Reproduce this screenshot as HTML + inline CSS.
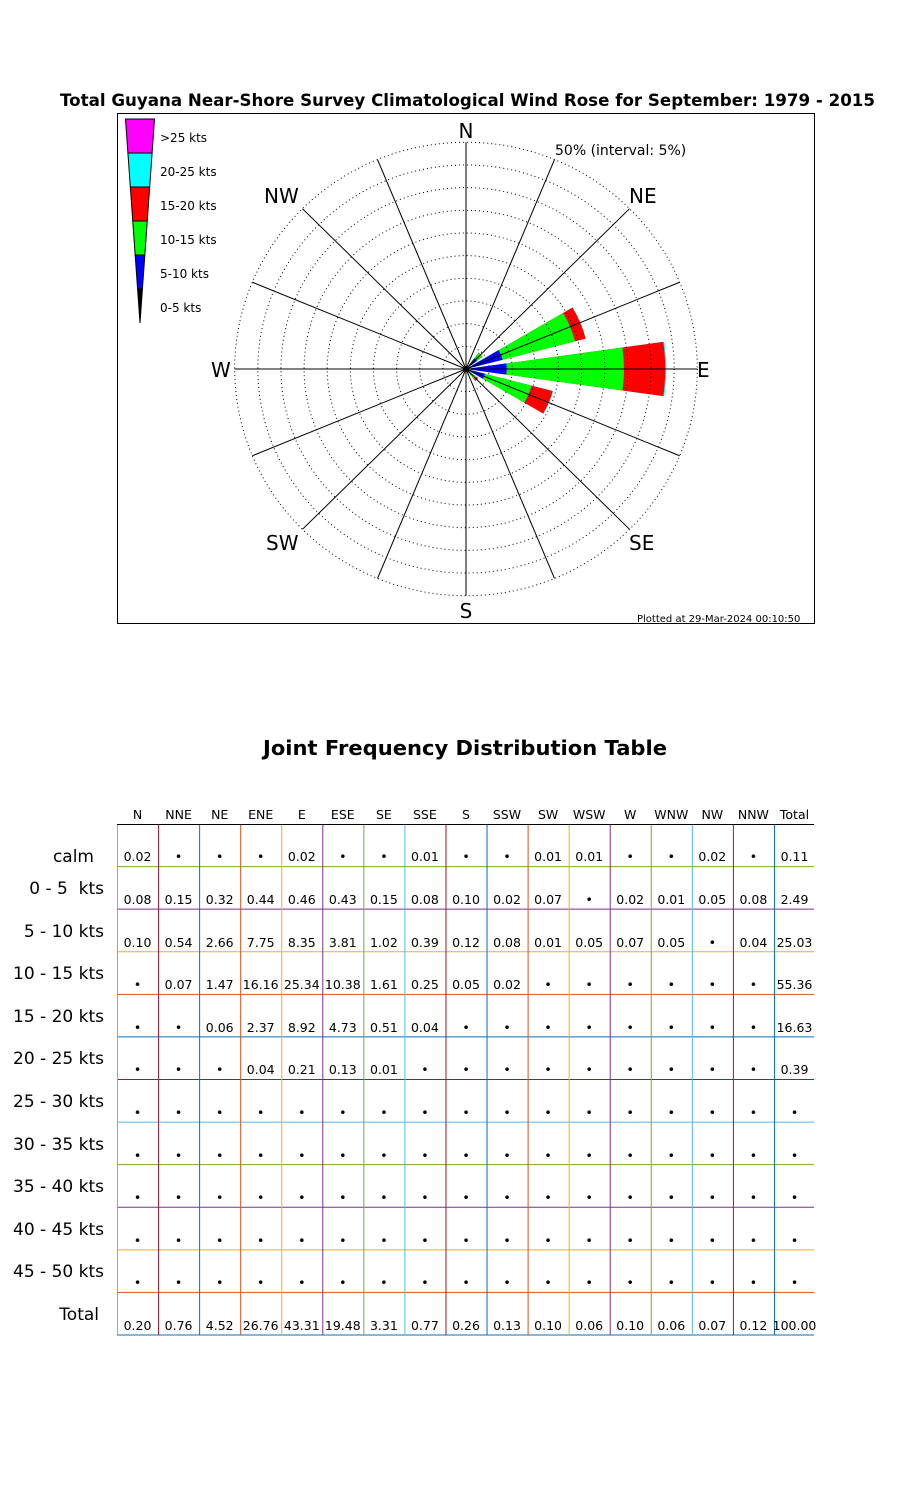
<!DOCTYPE html>
<html><head><meta charset="utf-8"><style>
html,body{margin:0;padding:0;background:#fff;}
svg{display:block;font-family:"DejaVu Sans","Liberation Sans",sans-serif;}
</style></head><body>
<svg id="s" width="900" height="1500" viewBox="0 0 900 1500" xmlns="http://www.w3.org/2000/svg">
<text x="60" y="106" font-size="16.5" font-weight="bold" textLength="815" lengthAdjust="spacingAndGlyphs">Total Guyana Near-Shore Survey Climatological Wind Rose for September: 1979 - 2015</text>
<rect x="117.5" y="113.5" width="697" height="510" fill="none" stroke="#000" stroke-width="1"/>
<g id="rose" transform="translate(466,369) scale(1.01,0.99)"></g>
<g id="leg"></g>
<g font-size="20">
<text x="466" y="138" text-anchor="middle">N</text>
<text x="466" y="618" text-anchor="middle">S</text>
<text x="697" y="377">E</text>
<text x="211" y="377">W</text>
<text x="629" y="203">NE</text>
<text x="264" y="203">NW</text>
<text x="629" y="550">SE</text>
<text x="266" y="550">SW</text>
</g>
<text x="555" y="155" font-size="14">50% (interval: 5%)</text>
<text x="637" y="622" font-size="10">Plotted at 29-Mar-2024 00:10:50</text>
<g font-size="12">
<text x="160" y="142">&gt;25 kts</text>
<text x="160" y="176">20-25 kts</text>
<text x="160" y="210">15-20 kts</text>
<text x="160" y="244">10-15 kts</text>
<text x="160" y="278">5-10 kts</text>
<text x="160" y="312">0-5 kts</text>
</g>
<text x="263" y="755" font-size="20" font-weight="bold" textLength="404" lengthAdjust="spacingAndGlyphs">Joint Frequency Distribution Table</text>
<g id="grid"></g>
<g font-size="12.5" text-anchor="middle">
<text y="819"><tspan x="137.5">N</tspan><tspan x="178.6">NNE</tspan><tspan x="219.7">NE</tspan><tspan x="260.7">ENE</tspan><tspan x="301.8">E</tspan><tspan x="342.8">ESE</tspan><tspan x="383.9">SE</tspan><tspan x="424.9">SSE</tspan><tspan x="466">S</tspan><tspan x="507">SSW</tspan><tspan x="548.1">SW</tspan><tspan x="589.2">WSW</tspan><tspan x="630.2">W</tspan><tspan x="671.3">WNW</tspan><tspan x="712.3">NW</tspan><tspan x="753.4">NNW</tspan><tspan x="794.5">Total</tspan></text>
<text y="861"><tspan x="137.5">0.02</tspan><tspan x="178.6">•</tspan><tspan x="219.7">•</tspan><tspan x="260.7">•</tspan><tspan x="301.8">0.02</tspan><tspan x="342.8">•</tspan><tspan x="383.9">•</tspan><tspan x="424.9">0.01</tspan><tspan x="466">•</tspan><tspan x="507">•</tspan><tspan x="548.1">0.01</tspan><tspan x="589.2">0.01</tspan><tspan x="630.2">•</tspan><tspan x="671.3">•</tspan><tspan x="712.3">0.02</tspan><tspan x="753.4">•</tspan><tspan x="794.5">0.11</tspan></text>
<text y="904"><tspan x="137.5">0.08</tspan><tspan x="178.6">0.15</tspan><tspan x="219.7">0.32</tspan><tspan x="260.7">0.44</tspan><tspan x="301.8">0.46</tspan><tspan x="342.8">0.43</tspan><tspan x="383.9">0.15</tspan><tspan x="424.9">0.08</tspan><tspan x="466">0.10</tspan><tspan x="507">0.02</tspan><tspan x="548.1">0.07</tspan><tspan x="589.2">•</tspan><tspan x="630.2">0.02</tspan><tspan x="671.3">0.01</tspan><tspan x="712.3">0.05</tspan><tspan x="753.4">0.08</tspan><tspan x="794.5">2.49</tspan></text>
<text y="947"><tspan x="137.5">0.10</tspan><tspan x="178.6">0.54</tspan><tspan x="219.7">2.66</tspan><tspan x="260.7">7.75</tspan><tspan x="301.8">8.35</tspan><tspan x="342.8">3.81</tspan><tspan x="383.9">1.02</tspan><tspan x="424.9">0.39</tspan><tspan x="466">0.12</tspan><tspan x="507">0.08</tspan><tspan x="548.1">0.01</tspan><tspan x="589.2">0.05</tspan><tspan x="630.2">0.07</tspan><tspan x="671.3">0.05</tspan><tspan x="712.3">•</tspan><tspan x="753.4">0.04</tspan><tspan x="794.5">25.03</tspan></text>
<text y="989"><tspan x="137.5">•</tspan><tspan x="178.6">0.07</tspan><tspan x="219.7">1.47</tspan><tspan x="260.7">16.16</tspan><tspan x="301.8">25.34</tspan><tspan x="342.8">10.38</tspan><tspan x="383.9">1.61</tspan><tspan x="424.9">0.25</tspan><tspan x="466">0.05</tspan><tspan x="507">0.02</tspan><tspan x="548.1">•</tspan><tspan x="589.2">•</tspan><tspan x="630.2">•</tspan><tspan x="671.3">•</tspan><tspan x="712.3">•</tspan><tspan x="753.4">•</tspan><tspan x="794.5">55.36</tspan></text>
<text y="1032"><tspan x="137.5">•</tspan><tspan x="178.6">•</tspan><tspan x="219.7">0.06</tspan><tspan x="260.7">2.37</tspan><tspan x="301.8">8.92</tspan><tspan x="342.8">4.73</tspan><tspan x="383.9">0.51</tspan><tspan x="424.9">0.04</tspan><tspan x="466">•</tspan><tspan x="507">•</tspan><tspan x="548.1">•</tspan><tspan x="589.2">•</tspan><tspan x="630.2">•</tspan><tspan x="671.3">•</tspan><tspan x="712.3">•</tspan><tspan x="753.4">•</tspan><tspan x="794.5">16.63</tspan></text>
<text y="1074"><tspan x="137.5">•</tspan><tspan x="178.6">•</tspan><tspan x="219.7">•</tspan><tspan x="260.7">0.04</tspan><tspan x="301.8">0.21</tspan><tspan x="342.8">0.13</tspan><tspan x="383.9">0.01</tspan><tspan x="424.9">•</tspan><tspan x="466">•</tspan><tspan x="507">•</tspan><tspan x="548.1">•</tspan><tspan x="589.2">•</tspan><tspan x="630.2">•</tspan><tspan x="671.3">•</tspan><tspan x="712.3">•</tspan><tspan x="753.4">•</tspan><tspan x="794.5">0.39</tspan></text>
<text y="1117"><tspan x="137.5">•</tspan><tspan x="178.6">•</tspan><tspan x="219.7">•</tspan><tspan x="260.7">•</tspan><tspan x="301.8">•</tspan><tspan x="342.8">•</tspan><tspan x="383.9">•</tspan><tspan x="424.9">•</tspan><tspan x="466">•</tspan><tspan x="507">•</tspan><tspan x="548.1">•</tspan><tspan x="589.2">•</tspan><tspan x="630.2">•</tspan><tspan x="671.3">•</tspan><tspan x="712.3">•</tspan><tspan x="753.4">•</tspan><tspan x="794.5">•</tspan></text>
<text y="1160"><tspan x="137.5">•</tspan><tspan x="178.6">•</tspan><tspan x="219.7">•</tspan><tspan x="260.7">•</tspan><tspan x="301.8">•</tspan><tspan x="342.8">•</tspan><tspan x="383.9">•</tspan><tspan x="424.9">•</tspan><tspan x="466">•</tspan><tspan x="507">•</tspan><tspan x="548.1">•</tspan><tspan x="589.2">•</tspan><tspan x="630.2">•</tspan><tspan x="671.3">•</tspan><tspan x="712.3">•</tspan><tspan x="753.4">•</tspan><tspan x="794.5">•</tspan></text>
<text y="1202"><tspan x="137.5">•</tspan><tspan x="178.6">•</tspan><tspan x="219.7">•</tspan><tspan x="260.7">•</tspan><tspan x="301.8">•</tspan><tspan x="342.8">•</tspan><tspan x="383.9">•</tspan><tspan x="424.9">•</tspan><tspan x="466">•</tspan><tspan x="507">•</tspan><tspan x="548.1">•</tspan><tspan x="589.2">•</tspan><tspan x="630.2">•</tspan><tspan x="671.3">•</tspan><tspan x="712.3">•</tspan><tspan x="753.4">•</tspan><tspan x="794.5">•</tspan></text>
<text y="1245"><tspan x="137.5">•</tspan><tspan x="178.6">•</tspan><tspan x="219.7">•</tspan><tspan x="260.7">•</tspan><tspan x="301.8">•</tspan><tspan x="342.8">•</tspan><tspan x="383.9">•</tspan><tspan x="424.9">•</tspan><tspan x="466">•</tspan><tspan x="507">•</tspan><tspan x="548.1">•</tspan><tspan x="589.2">•</tspan><tspan x="630.2">•</tspan><tspan x="671.3">•</tspan><tspan x="712.3">•</tspan><tspan x="753.4">•</tspan><tspan x="794.5">•</tspan></text>
<text y="1287"><tspan x="137.5">•</tspan><tspan x="178.6">•</tspan><tspan x="219.7">•</tspan><tspan x="260.7">•</tspan><tspan x="301.8">•</tspan><tspan x="342.8">•</tspan><tspan x="383.9">•</tspan><tspan x="424.9">•</tspan><tspan x="466">•</tspan><tspan x="507">•</tspan><tspan x="548.1">•</tspan><tspan x="589.2">•</tspan><tspan x="630.2">•</tspan><tspan x="671.3">•</tspan><tspan x="712.3">•</tspan><tspan x="753.4">•</tspan><tspan x="794.5">•</tspan></text>
<text y="1330"><tspan x="137.5">0.20</tspan><tspan x="178.6">0.76</tspan><tspan x="219.7">4.52</tspan><tspan x="260.7">26.76</tspan><tspan x="301.8">43.31</tspan><tspan x="342.8">19.48</tspan><tspan x="383.9">3.31</tspan><tspan x="424.9">0.77</tspan><tspan x="466">0.26</tspan><tspan x="507">0.13</tspan><tspan x="548.1">0.10</tspan><tspan x="589.2">0.06</tspan><tspan x="630.2">0.10</tspan><tspan x="671.3">0.06</tspan><tspan x="712.3">0.07</tspan><tspan x="753.4">0.12</tspan><tspan x="794.5">100.00</tspan></text>
</g>
<g font-size="17" text-anchor="end">
<text x="94" y="862">calm</text>
<text x="104" y="894" xml:space="preserve">0 - 5  kts</text>
<text x="104" y="937">5 - 10 kts</text>
<text x="104" y="979">10 - 15 kts</text>
<text x="104" y="1022">15 - 20 kts</text>
<text x="104" y="1064">20 - 25 kts</text>
<text x="104" y="1107">25 - 30 kts</text>
<text x="104" y="1150">30 - 35 kts</text>
<text x="104" y="1192">35 - 40 kts</text>
<text x="104" y="1235">40 - 45 kts</text>
<text x="104" y="1277">45 - 50 kts</text>
<text x="99" y="1320">Total</text>
</g>
</svg>
<script>
(function(){
var NS="http://www.w3.org/2000/svg";
function el(p,t,a){var e=document.createElementNS(NS,t);for(var k in a)e.setAttribute(k,a[k]);p.appendChild(e);return e;}
var rose=document.getElementById('rose');var R=229;
var d=[[0.08,0.10,0,0,0],[0.15,0.54,0.07,0,0],[0.32,2.66,1.47,0.06,0],[0.44,7.75,16.16,2.37,0.04],[0.46,8.35,25.34,8.92,0.21],[0.43,3.81,10.38,4.73,0.13],[0.15,1.02,1.61,0.51,0.01],[0.08,0.39,0.25,0.04,0],[0.10,0.12,0.05,0,0],[0.02,0.08,0.02,0,0],[0.07,0.01,0,0,0],[0,0.05,0,0,0],[0.02,0.07,0,0,0],[0.01,0.05,0,0,0],[0.05,0,0,0,0],[0.08,0.04,0,0,0]];
var cols=['#000','#00f','#0f0','#f00','#0ff','#f0f'];
var hw=8*Math.PI/180;
for(var j=0;j<16;j++){
 var th=j*22.5*Math.PI/180;var cum=[];var s=0;
 for(var b=0;b<5;b++){s+=d[j][b];cum.push(s);}
 for(var b=4;b>=0;b--){
  if(d[j][b]<=0)continue;
  var r=cum[b]/50*R;
  var a1=th-hw,a2=th+hw;
  var p="M0,0 L"+(r*Math.sin(a1)).toFixed(2)+","+(-r*Math.cos(a1)).toFixed(2)+" A"+r+","+r+" 0 0 1 "+(r*Math.sin(a2)).toFixed(2)+","+(-r*Math.cos(a2)).toFixed(2)+" Z";
  el(rose,'path',{d:p,fill:cols[b],stroke:'none'});
 }
}
for(var i=1;i<=10;i++){el(rose,'circle',{cx:0,cy:0,r:R*i/10,fill:'none',stroke:'#000','stroke-width':1,'stroke-dasharray':'1 3'});}
for(var j=0;j<16;j++){var th=j*22.5*Math.PI/180;el(rose,'line',{x1:0,y1:0,x2:(R*Math.sin(th)).toFixed(2),y2:(-R*Math.cos(th)).toFixed(2),stroke:'#000','stroke-width':1});}
var leg=document.getElementById('leg');var lc=['#f0f','#0ff','#f00','#0f0','#00f','#000'];
function w(y){return 29*(323-y)/204;}
for(var i=0;i<6;i++){var y1=119+34*i,y2=y1+34;var a=w(y1)/2,b=w(y2)/2;
 el(leg,'polygon',{points:(140-a)+","+y1+" "+(140+a)+","+y1+" "+(140+b)+","+y2+" "+(140-b)+","+y2,fill:lc[i],stroke:'#000','stroke-width':1});}
var g=document.getElementById('grid');
var vc=['#4DBEEE','#A2142F','#0072BD','#D95319','#EDB120','#7E2F8E','#77AC30'];
var hc=['#77AC30','#7E2F8E','#EDB120','#D95319','#0072BD','#A2142F','#4DBEEE'];
var rh=(1335-824)/12;
for(var k=0;k<12;k++){var y=824+rh*(k+1);el(g,'line',{x1:117,x2:814,y1:y,y2:y,stroke:hc[k%7],'stroke-width':1});}
for(var i=0;i<17;i++){var x=117.5+41.06*i;el(g,'line',{x1:x,x2:x,y1:824,y2:1335,stroke:vc[i%7],'stroke-width':1});}
el(g,'line',{x1:117,x2:814,y1:824.5,y2:824.5,stroke:'#000','stroke-width':1});
})();
</script>
</body></html>
